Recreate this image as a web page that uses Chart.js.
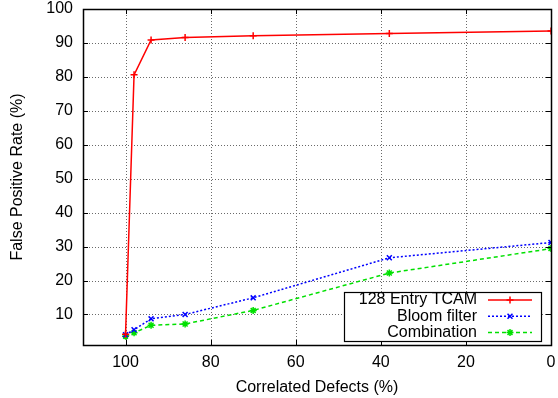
<!DOCTYPE html>
<html><head><meta charset="utf-8">
<script src="https://cdn.jsdelivr.net/npm/chart.js@4/dist/chart.umd.min.js"></script>
<style>html,body{margin:0;padding:0;background:#fff}#wrap{width:558px;height:398px}</style>
</head><body><div id="wrap"><canvas id="c" width="558" height="398"></canvas></div>
<script>
const defects = [100, 98, 94, 86, 70, 38, 0];
const tcam = [4.2, 80.6, 90.9, 91.6, 92.1, 92.8, 93.5];
const bloom = [4.0, 5.5, 8.7, 10.0, 14.9, 26.7, 31.2];
const combo = [3.6, 4.6, 6.8, 7.2, 11.2, 22.2, 29.4];
const xTicks = [100, 80, 60, 40, 20, 0];
const yTicks = [10, 20, 30, 40, 50, 60, 70, 80, 90, 100];
const seriesNames = ['128 Entry TCAM', 'Bloom filter', 'Combination'];

const FONT = 'Liberation Sans, Arial, Helvetica, sans-serif';
const FS = 16;
const pts = arr => defects.map((d, i) => ({x: d, y: arr[i]}));

const styles = [
  {color: '#ff0000', dash: [], point: 'cross', r: 3.5},
  {color: '#0000ff', dash: [2, 2], point: 'crossRot', r: 3.5},
  {color: '#00e000', dash: [4, 3], point: 'star', r: 3.5}
];
const datasets = [tcam, bloom, combo].map((arr, i) => ({
  label: seriesNames[i],
  data: pts(arr),
  borderColor: styles[i].color,
  backgroundColor: styles[i].color,
  borderWidth: 1.5,
  borderDash: styles[i].dash,
  pointStyle: styles[i].point,
  pointRadius: styles[i].r,
  pointBorderWidth: 1.5,
  pointBorderColor: styles[i].color,
  tension: 0,
  fill: false
}));

const framePlugin = {
  id: 'frame',
  beforeDatasetsDraw(chart) {
    const ctx = chart.ctx, a = chart.chartArea;
    const xs = chart.scales.x, ys = chart.scales.y;
    ctx.save();
    ctx.strokeStyle = '#6a6a6a';
    ctx.lineWidth = 1;
    ctx.setLineDash([1, 2]);
    ctx.beginPath();
    xTicks.forEach(v => {
      const px = Math.round(xs.getPixelForValue(v)) + 0.5;
      ctx.moveTo(px, a.top); ctx.lineTo(px, a.bottom);
    });
    yTicks.forEach(v => {
      const py = Math.round(ys.getPixelForValue(v)) + 0.5;
      ctx.moveTo(a.left, py); ctx.lineTo(a.right, py);
    });
    ctx.stroke();
    ctx.restore();
  },
  afterDatasetsDraw(chart) {
    const ctx = chart.ctx, a = chart.chartArea;
    const xs = chart.scales.x, ys = chart.scales.y;
    ctx.save();
    ctx.strokeStyle = '#000';
    ctx.lineWidth = 1;
    ctx.setLineDash([]);
    const L = 5;
    ctx.beginPath();
    xTicks.forEach(v => {
      const px = Math.round(xs.getPixelForValue(v)) + 0.5;
      ctx.moveTo(px, a.bottom); ctx.lineTo(px, a.bottom - L);
      ctx.moveTo(px, a.top); ctx.lineTo(px, a.top + L);
    });
    yTicks.forEach(v => {
      const py = Math.round(ys.getPixelForValue(v)) + 0.5;
      ctx.moveTo(a.left, py); ctx.lineTo(a.left + L, py);
      ctx.moveTo(a.right, py); ctx.lineTo(a.right - L, py);
    });
    ctx.stroke();
    ctx.lineWidth = 1.5;
    ctx.strokeRect(Math.round(a.left) + 0.5, Math.round(a.top) + 0.5, Math.round(a.right - a.left), Math.round(a.bottom - a.top));

    // legend box
    const bx = a.right - 207, by = a.bottom - 53, bw = 197, bh = 49;
    ctx.fillStyle = '#fff';
    ctx.fillRect(bx, by, bw, bh);
    ctx.lineWidth = 1.2;
    ctx.strokeStyle = '#000';
    ctx.strokeRect(bx + 0.5, by + 0.5, bw, bh);
    ctx.font = FS + 'px ' + FONT;
    ctx.textAlign = 'right';
    ctx.textBaseline = 'middle';
    seriesNames.forEach((name, i) => {
      const ty = by + 8 + i * 16.3;
      ctx.fillStyle = '#000';
      ctx.fillText(name, bx + 133, ty);
      const st = styles[i];
      ctx.strokeStyle = st.color;
      ctx.lineWidth = 1.5;
      ctx.setLineDash(st.dash);
      ctx.beginPath();
      ctx.moveTo(bx + 144, ty); ctx.lineTo(bx + 188, ty);
      ctx.stroke();
      ctx.setLineDash([]);
      Chart.helpers.drawPoint(ctx, {pointStyle: st.point, radius: st.r, borderWidth: 1.5}, bx + 166, ty);
    });
    ctx.restore();
  }
};

new Chart(document.getElementById('c'), {
  type: 'line',
  data: {datasets},
  options: {
    responsive: false,
    animation: false,
    layout: {padding: {left: 0, right: 7, top: 9, bottom: 0}},
    plugins: {legend: {display: false}, tooltip: {enabled: false}},
    scales: {
      x: {
        type: 'linear', reverse: true, min: 0, max: 110,
        afterBuildTicks: s => { s.ticks = xTicks.map(v => ({value: v})); },
        afterFit: s => { s.height = 53; s.paddingLeft = 0; s.paddingRight = 0; },
        border: {display: false},
        grid: {display: false, drawTicks: false},
        ticks: {color: '#000', font: {family: FONT, size: FS}, padding: 8, maxRotation: 0, autoSkip: false},
        title: {display: true, text: 'Correlated Defects (%)', color: '#000', font: {family: FONT, size: FS}, padding: {top: 0, bottom: 1}}
      },
      y: {
        type: 'linear', min: 1, max: 100,
        afterBuildTicks: s => { s.ticks = yTicks.map(v => ({value: v})); },
        afterFit: s => { s.width = 83; s.paddingTop = 0; s.paddingBottom = 0; },
        border: {display: false},
        grid: {display: false, drawTicks: false},
        ticks: {color: '#000', font: {family: FONT, size: FS}, padding: 10, autoSkip: false},
        title: {display: true, text: 'False Positive Rate (%)', color: '#000', font: {family: FONT, size: FS}, padding: {top: 8, bottom: 0}}
      }
    }
  },
  plugins: [framePlugin]
});
</script></body></html>
